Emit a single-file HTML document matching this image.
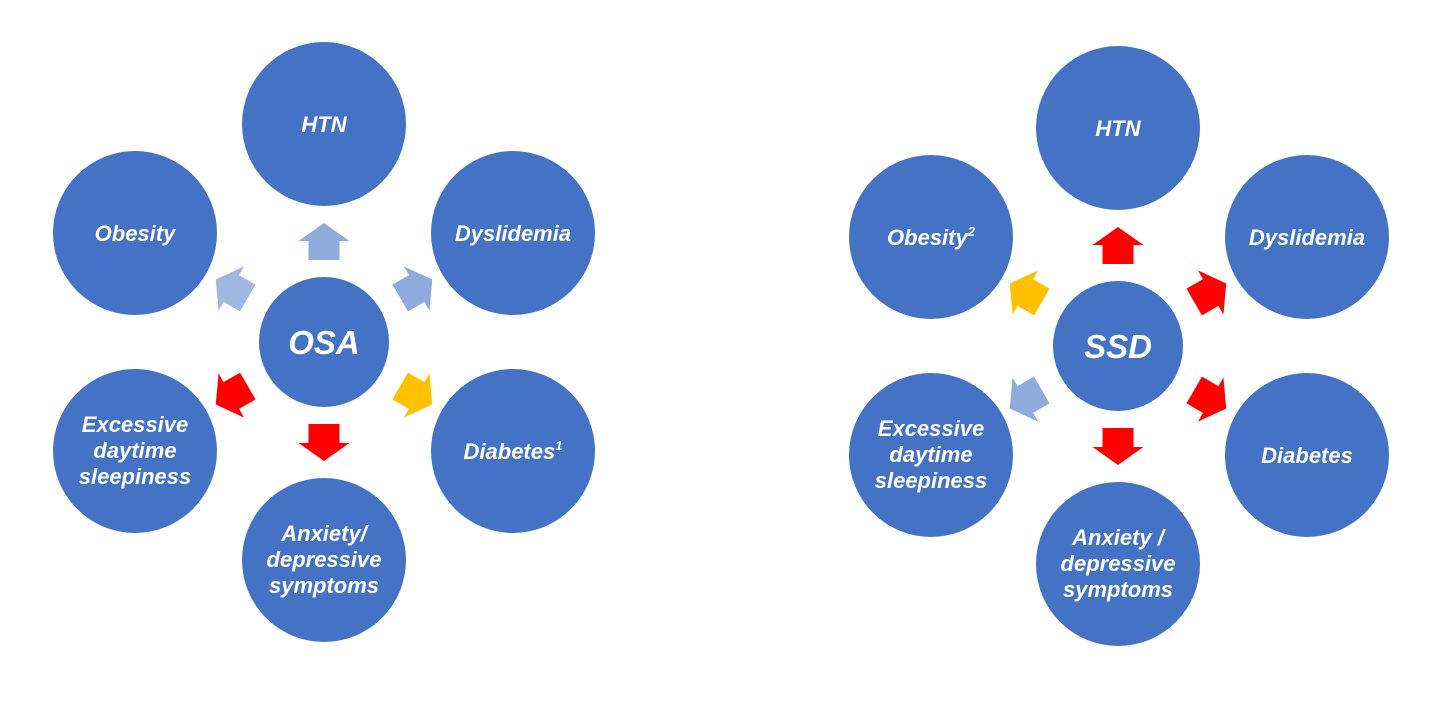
<!DOCTYPE html>
<html><head><meta charset="utf-8"><style>
html,body{margin:0;padding:0;background:#fff;}
svg{display:block}
text{font-family:"Liberation Sans",sans-serif;font-weight:bold;font-style:italic;fill:#fff;text-anchor:middle;}
</style></head><body>
<svg width="1440" height="704" viewBox="0 0 1440 704">
<defs>
<polygon id="ar" points="82,-15.5 101,-15.5 101,-25.5 119,0 101,25.5 101,15.5 82,15.5"/>
<polygon id="ad" points="88,-15.5 107,-15.5 107,-25.5 125,0 107,25.5 107,15.5 88,15.5"/>
</defs>
<g fill="#4472C4">
<circle cx="324" cy="124" r="82"/><circle cx="135" cy="233" r="82"/><circle cx="513" cy="233" r="82"/>
<circle cx="135" cy="451" r="82"/><circle cx="513" cy="451" r="82"/><circle cx="324" cy="560" r="82"/>
<circle cx="324" cy="342" r="65"/>
<circle cx="1118" cy="128" r="82"/><circle cx="931" cy="237" r="82"/><circle cx="1307" cy="237" r="82"/>
<circle cx="931" cy="455" r="82"/><circle cx="1307" cy="455" r="82"/><circle cx="1118" cy="564" r="82"/>
<circle cx="1118" cy="346" r="65"/>
</g>
<g transform="translate(324,342)">
<use href="#ar" fill="#8FAADC" transform="rotate(-90)"/>
<use href="#ad" fill="#8FAADC" transform="rotate(-30)"/>
<use href="#ad" fill="#FFC000" transform="rotate(30)"/>
<use href="#ar" fill="#FF0000" transform="rotate(90)"/>
<use href="#ad" fill="#FF0000" transform="rotate(150)"/>
<use href="#ad" fill="#8FAADC" opacity="0.85" transform="rotate(210)"/>
</g>
<g transform="translate(1118,346)">
<use href="#ar" fill="#FF0000" transform="rotate(-90)"/>
<use href="#ad" fill="#FF0000" transform="rotate(-30)"/>
<use href="#ad" fill="#FF0000" transform="rotate(30)"/>
<use href="#ar" fill="#FF0000" transform="rotate(90)"/>
<use href="#ad" fill="#8FAADC" transform="rotate(150)"/>
<use href="#ad" fill="#FFC000" transform="rotate(210)"/>
</g>
<g font-size="22">
<text x="324" y="132">HTN</text>
<text x="135" y="241">Obesity</text>
<text x="513" y="241">Dyslidemia</text>
<text x="135" y="432">Excessive</text><text x="135" y="458">daytime</text><text x="135" y="484">sleepiness</text>
<text x="513" y="459">Diabetes<tspan font-size="13" dy="-9">1</tspan></text>
<text x="324" y="541">Anxiety/</text><text x="324" y="567">depressive</text><text x="324" y="593">symptoms</text>
<text x="1118" y="136">HTN</text>
<text x="931" y="245">Obesity<tspan font-size="13" dy="-9">2</tspan></text>
<text x="1307" y="245">Dyslidemia</text>
<text x="931" y="436">Excessive</text><text x="931" y="462">daytime</text><text x="931" y="488">sleepiness</text>
<text x="1307" y="463">Diabetes</text>
<text x="1118" y="545">Anxiety /</text><text x="1118" y="571">depressive</text><text x="1118" y="597">symptoms</text>
</g>
<text x="324" y="354" font-size="33">OSA</text>
<text x="1118" y="358" font-size="33">SSD</text>
</svg>
</body></html>
